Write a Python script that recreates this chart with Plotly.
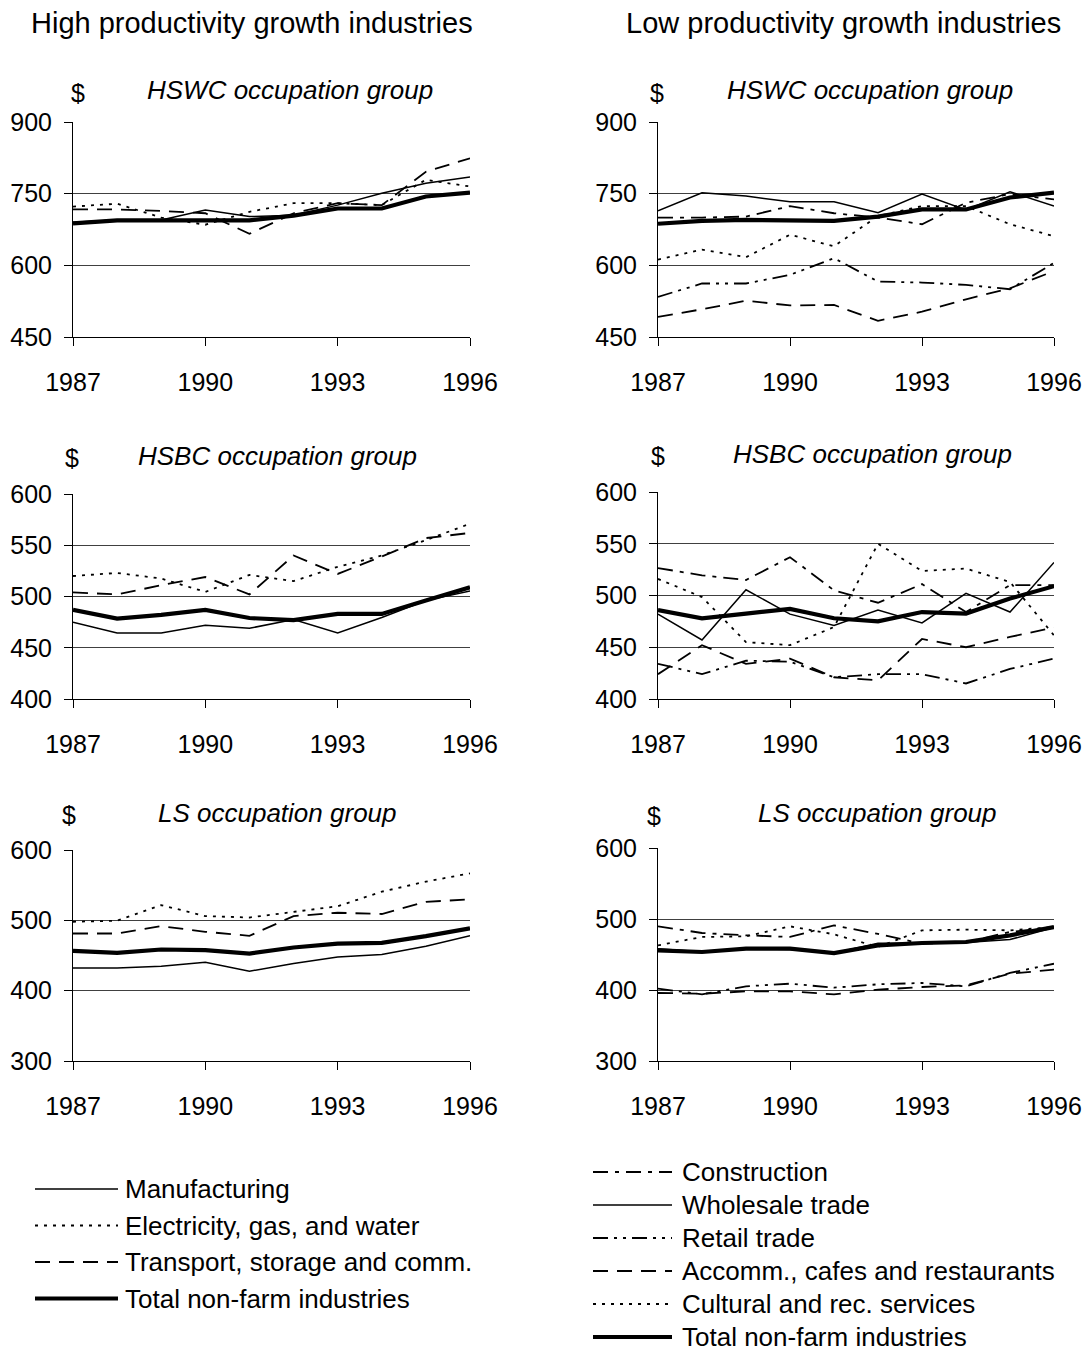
import plotly.graph_objects as go

# ---------------- data ----------------
years = [1987, 1988, 1989, 1990, 1991, 1992, 1993, 1994, 1995, 1996]
x_ticks = [1987, 1990, 1993, 1996]

# High productivity growth industries
hswc_high_manuf = [690, 695, 695, 716, 702, 705, 726, 751, 772, 785]
hswc_high_elec = [723, 729, 700, 685, 712, 730, 730, 726, 779, 765]
hswc_high_trans = [717, 717, 714, 709, 666, 709, 730, 726, 796, 824]
hswc_high_total = [688, 694, 694, 695, 694, 704, 719, 719, 744, 752]

hsbc_high_manuf = [475, 464.5, 464.5, 472, 469, 477.5, 464.5, 479.5, 496, 505.5]
hsbc_high_elec = [520, 523, 517.5, 504.5, 521, 515, 529, 540, 555, 571]
hsbc_high_trans = [504, 502, 511, 519, 502, 540, 522, 539, 557, 562]
hsbc_high_total = [487, 478.5, 482, 487, 479, 477, 483, 483, 496, 509]

ls_high_manuf = [432.4, 432.4, 434.8, 440.5, 427.7, 438.6, 448, 451.4, 463.3, 478]
ls_high_elec = [498, 499.4, 521.7, 506, 504, 512, 520, 540.7, 555, 566.8]
ls_high_trans = [481.3, 481.3, 491.8, 483.7, 478, 506, 510.8, 509, 526.4, 529.7]
ls_high_total = [456.6, 453.8, 458.5, 457.6, 452.8, 461.4, 467, 468, 477.5, 488.5]

# Low productivity growth industries
hswc_low_constr = [700, 700, 702, 724, 709, 700, 686, 731, 749, 738]
hswc_low_whole = [714, 752, 745, 733, 733, 710, 749, 716, 754, 724]
hswc_low_retail = [534, 562, 562, 580, 615, 566, 564, 559, 550, 605]
hswc_low_accomm = [492, 508, 526, 516, 517, 484, 503, 529, 552, 588]
hswc_low_cult = [612, 633, 617, 664, 640, 703, 724, 724, 686, 661]
hswc_low_total = [687, 693, 695, 695, 693, 702, 717, 717, 742, 752]

hsbc_low_constr = [526.5, 519.5, 515, 537, 505, 493, 511, 484, 510, 510]
hsbc_low_whole = [482, 457, 505.5, 482, 471, 486, 473.5, 502, 484, 532]
hsbc_low_retail = [434, 424, 437, 436, 421, 424, 424, 415, 429, 439]
hsbc_low_accomm = [424, 452, 434, 439, 421, 418, 458, 450, 460, 469]
hsbc_low_cult = [516, 498.5, 455, 452, 469.5, 550, 523.7, 526, 513, 461.5]
hsbc_low_total = [486, 478, 482.5, 487, 478, 475, 484, 482.5, 497, 509]

ls_low_constr = [489.7, 480.3, 477, 474.7, 491, 479, 465.3, 467.6, 481.7, 488.7]
ls_low_whole = [458, 454, 458, 457, 452, 466, 466, 467, 471, 488]
ls_low_retail = [401.9, 393.9, 405.2, 408.9, 403.3, 408, 409.9, 405.2, 424, 437]
ls_low_accomm = [395.8, 394.8, 398, 398, 393.9, 400.5, 404.2, 406.6, 423, 428.6]
ls_low_cult = [462.9, 474.7, 475.6, 489.7, 478.4, 460.6, 484, 485, 484, 488.7]
ls_low_total = [455.9, 453.5, 458.2, 458.2, 452.1, 462.9, 466.2, 467.6, 477, 488.7]

high_names = ["Manufacturing", "Electricity, gas, and water",
              "Transport, storage and comm.", "Total non-farm industries"]
low_names = ["Construction", "Wholesale trade", "Retail trade",
             "Accomm., cafes and restaurants", "Cultural and rec. services",
             "Total non-farm industries"]

group_titles = ["HSWC occupation group", "HSBC occupation group", "LS occupation group"]
header_texts = ["High productivity growth industries", "Low productivity growth industries"]

# ---------------- styles ----------------
STYLE = {
    "Manufacturing": (1.5, "solid"),
    "Electricity, gas, and water": (1.8, "3px,6px"),
    "Transport, storage and comm.": (1.8, "15px,9px"),
    "Construction": (1.8, "15px,7px,4px,7px"),
    "Wholesale trade": (1.5, "solid"),
    "Retail trade": (1.8, "15px,6px,3px,6px,3px,6px"),
    "Accomm., cafes and restaurants": (1.8, "15px,9px"),
    "Cultural and rec. services": (1.8, "3px,6px"),
    "Total non-farm industries": (4.2, "solid"),
}

PAGE_W, PAGE_H = 1091, 1354
OFF = 8  # the page body margin that shifts the figure
W, H = PAGE_W - OFF, PAGE_H - OFF
FONT = "Liberation Sans, Arial, sans-serif"


def fx(p):
    return (p - OFF) / W


def fy(p):
    return 1 - (p - OFF) / H


panels = [
    dict(series=[hswc_high_manuf, hswc_high_elec, hswc_high_trans, hswc_high_total], names=high_names,
         title=group_titles[0], yr=[450, 900], dt=150, box=(73, 470, 122, 337), dollar=(78, 93), tpos=(290, 90)),
    dict(series=[hswc_low_constr, hswc_low_whole, hswc_low_retail, hswc_low_accomm, hswc_low_cult, hswc_low_total],
         names=low_names, title=group_titles[0], yr=[450, 900], dt=150, box=(658, 1054, 122, 337),
         dollar=(657, 93), tpos=(870, 90)),
    dict(series=[hsbc_high_manuf, hsbc_high_elec, hsbc_high_trans, hsbc_high_total], names=high_names,
         title=group_titles[1], yr=[400, 600], dt=50, box=(73, 470, 494, 699), dollar=(72, 458), tpos=(277, 456)),
    dict(series=[hsbc_low_constr, hsbc_low_whole, hsbc_low_retail, hsbc_low_accomm, hsbc_low_cult, hsbc_low_total],
         names=low_names, title=group_titles[1], yr=[400, 600], dt=50, box=(658, 1054, 492, 699),
         dollar=(658, 456), tpos=(872, 454)),
    dict(series=[ls_high_manuf, ls_high_elec, ls_high_trans, ls_high_total], names=high_names,
         title=group_titles[2], yr=[300, 600], dt=100, box=(73, 470, 850, 1061), dollar=(69, 815), tpos=(277, 813)),
    dict(series=[ls_low_constr, ls_low_whole, ls_low_retail, ls_low_accomm, ls_low_cult, ls_low_total],
         names=low_names, title=group_titles[2], yr=[300, 600], dt=100, box=(658, 1054, 848, 1061),
         dollar=(654, 816), tpos=(877, 813)),
]

fig = go.Figure()
annotations = []
shapes = []

for i, p in enumerate(panels, start=1):
    xa = "x" if i == 1 else f"x{i}"
    ya = "y" if i == 1 else f"y{i}"
    for name, vals in zip(p["names"], p["series"]):
        w, d = STYLE[name]
        fig.add_trace(go.Scatter(x=years, y=vals, mode="lines", name=name, showlegend=False,
                                 line=dict(color="black", width=w, dash=d),
                                 xaxis=xa, yaxis=ya, hoverinfo="skip"))
    x0, x1, y0, y1 = p["box"]
    xkey = "xaxis" if i == 1 else f"xaxis{i}"
    ykey = "yaxis" if i == 1 else f"yaxis{i}"
    fig.update_layout(**{
        xkey: dict(domain=[fx(x0), fx(x1)], anchor=ya, range=[1987, 1996], tickvals=x_ticks,
                   ticks="outside", ticklen=8, tickcolor="black", tickwidth=1,
                   showline=True, linecolor="black", linewidth=1, showgrid=False, zeroline=False,
                   tickfont=dict(family=FONT, size=25, color="black"), ticklabelstandoff=15,
                   automargin=False),
        ykey: dict(domain=[fy(y1), fy(y0)], anchor=xa, range=p["yr"], dtick=p["dt"], tick0=p["yr"][0],
                   ticks="outside", ticklen=8, tickcolor="black", tickwidth=1,
                   showline=True, linecolor="black", linewidth=1, showgrid=True, gridcolor="#404040",
                   gridwidth=1, zeroline=False,
                   tickfont=dict(family=FONT, size=25, color="black"), ticklabelstandoff=7,
                   automargin=False),
    })
    annotations.append(dict(x=fx(p["dollar"][0]), y=fy(p["dollar"][1]), xref="paper", yref="paper",
                            text="$", showarrow=False, xanchor="center", yanchor="middle",
                            font=dict(family=FONT, size=25, color="black")))
    annotations.append(dict(x=fx(p["tpos"][0]), y=fy(p["tpos"][1]), xref="paper", yref="paper",
                            text="<i>" + p["title"] + "</i>", showarrow=False, xanchor="center",
                            yanchor="middle", font=dict(family=FONT, size=26, color="black")))

# headers
for txt, cx in zip(header_texts, [252, 843]):
    annotations.append(dict(x=fx(cx), y=fy(23), xref="paper", yref="paper", text=txt, showarrow=False,
                            xanchor="center", yanchor="middle", font=dict(family=FONT, size=29, color="black")))

# legends (keys drawn with the same line styles as the traces)
legend_specs = [
    (high_names, 35, 118, 123, 1189, 36.5),
    (low_names, 593, 672, 680, 1172, 33.0),
]
for names, lx0, lx1, tx, ystart, step in legend_specs:
    for k, name in enumerate(names):
        yy = ystart + k * step
        w, d = STYLE[name]
        shapes.append(dict(type="line", xref="paper", yref="paper", x0=fx(lx0), x1=fx(lx1),
                           y0=fy(yy), y1=fy(yy), line=dict(color="black", width=w, dash=d)))
        annotations.append(dict(x=fx(tx), y=fy(yy), xref="paper", yref="paper", text=name,
                                showarrow=False, xanchor="left", yanchor="middle",
                                font=dict(family=FONT, size=26, color="black")))

fig.update_layout(width=W, height=H, margin=dict(l=0, r=0, t=0, b=0, autoexpand=False),
                  paper_bgcolor="white", plot_bgcolor="white",
                  annotations=annotations, shapes=shapes, showlegend=False)

fig.write_html("out.html")
